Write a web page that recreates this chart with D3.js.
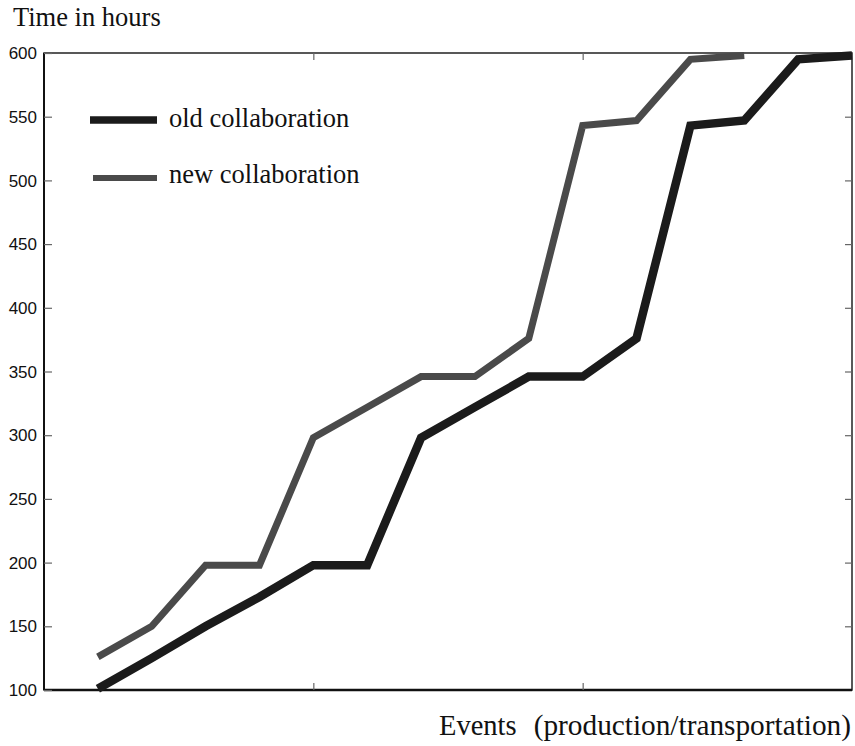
<!DOCTYPE html>
<html>
<head>
<meta charset="utf-8">
<script src="https://cdn.jsdelivr.net/npm/d3@7"></script>
<style>
  body { margin: 0; background: #fff; }
  svg { display: block; }
</style>
</head>
<body>
<svg id="chart" width="855" height="746"></svg>
<script>
// Event index (1-based) for each series
const oldEvents = [1,2,3,4,5,6,7,8,9,10,11,12,13,14,15];
const oldHours  = [101,125,150,173,198,198,298,322,346,346,376,543,547,595,598];
const newEvents = [1,2,3,4,5,6,7,8,9,10,11,12,13];
const newHours  = [126,150,198,198,298,322,346,346,376,543,547,595,598];
const yTicks = [100,150,200,250,300,350,400,450,500,550,600];
const xTicks = [5,10];

const legendItems = [
  { label: "old collaboration", color: "#1b1b1b", width: 8.5 },
  { label: "new collaboration", color: "#4a4a4a", width: 7 }
];

const svg = d3.select("#chart");
const m = { left: 44, top: 53, right: 852, bottom: 690 };

const x = d3.scaleLinear().domain([0, 15]).range([m.left, m.right]);
const y = d3.scaleLinear().domain([100, 600]).range([m.bottom, m.top]);

const sans = "Liberation Sans, Arial, sans-serif";
const serif = "Liberation Serif, Times New Roman, serif";

// Frame
svg.append("rect")
  .attr("x", m.left).attr("y", m.top)
  .attr("width", m.right - m.left).attr("height", m.bottom - m.top)
  .attr("fill", "none").attr("stroke", "#222").attr("stroke-width", 1.5);
svg.append("line").attr("x1", m.left).attr("x2", m.left)
  .attr("y1", m.top).attr("y2", m.bottom).attr("stroke", "#111").attr("stroke-width", 2);
svg.append("line").attr("x1", m.left).attr("x2", m.right)
  .attr("y1", m.bottom).attr("y2", m.bottom).attr("stroke", "#111").attr("stroke-width", 2.5);

// Y axis (left, ticks inward)
svg.append("g").attr("transform", `translate(${m.left},0)`)
  .call(d3.axisRight(y).tickValues(yTicks).tickSize(8).tickFormat(""))
  .call(g => g.select(".domain").remove())
  .call(g => g.selectAll("line").attr("stroke", "#666").attr("stroke-width", 1.2));
// Right ticks inward
svg.append("g").attr("transform", `translate(${m.right},0)`)
  .call(d3.axisLeft(y).tickValues(yTicks.slice(1, -1)).tickSize(7).tickFormat(""))
  .call(g => g.select(".domain").remove())
  .call(g => g.selectAll("line").attr("stroke", "#666").attr("stroke-width", 1.2));

// Y tick labels
svg.append("g").selectAll("text").data(yTicks).join("text")
  .attr("x", 37).attr("y", d => y(d)).attr("dy", "0.36em")
  .attr("text-anchor", "end")
  .attr("font-family", sans).attr("font-size", 17).attr("fill", "#111")
  .text(d => d);

// X ticks inward (bottom and top)
svg.append("g").attr("transform", `translate(0,${m.bottom})`)
  .call(d3.axisTop(x).tickValues(xTicks).tickSize(7).tickFormat(""))
  .call(g => g.select(".domain").remove())
  .call(g => g.selectAll("line").attr("stroke", "#666").attr("stroke-width", 1.2));
svg.append("g").attr("transform", `translate(0,${m.top})`)
  .call(d3.axisBottom(x).tickValues(xTicks).tickSize(7).tickFormat(""))
  .call(g => g.select(".domain").remove())
  .call(g => g.selectAll("line").attr("stroke", "#666").attr("stroke-width", 1.2));

// Series lines
const line = d3.line().x(d => x(d[0])).y(d => y(d[1]));
const series = [
  { pts: d3.zip(newEvents, newHours), style: legendItems[1] },
  { pts: d3.zip(oldEvents, oldHours), style: legendItems[0] }
];
svg.append("g").selectAll("path").data(series).join("path")
  .attr("d", d => line(d.pts))
  .attr("fill", "none")
  .attr("stroke", d => d.style.color)
  .attr("stroke-width", d => d.style.width)
  .attr("stroke-linejoin", "miter")
  .attr("stroke-linecap", "butt");

// Legend
const legend = svg.append("g");
const legendRows = [
  { item: legendItems[0], x1: 90, y: 120, ty: 127 },
  { item: legendItems[1], x1: 93, y: 178, ty: 183 }
];
legend.selectAll("line").data(legendRows).join("line")
  .attr("x1", d => d.x1).attr("x2", 157)
  .attr("y1", d => d.y).attr("y2", d => d.y)
  .attr("stroke", d => d.item.color)
  .attr("stroke-width", d => d.item.width - 1);
legend.selectAll("text").data(legendRows).join("text")
  .attr("x", 169).attr("y", d => d.ty)
  .attr("font-family", serif).attr("font-size", 26.5).attr("fill", "#111")
  .text(d => d.item.label);

// Axis titles
svg.append("text").attr("x", 13).attr("y", 26)
  .attr("font-family", serif).attr("font-size", 26.5).attr("fill", "#111")
  .text("Time in hours");
const xTitle = svg.append("text").attr("y", 735)
  .attr("font-family", serif).attr("fill", "#111");
xTitle.append("tspan").attr("x", 439).attr("font-size", 28.5).text("Events");
xTitle.append("tspan").attr("x", 851).attr("text-anchor", "end").attr("font-size", 29.3)
  .text("(production/transportation)");
</script>
</body>
</html>
